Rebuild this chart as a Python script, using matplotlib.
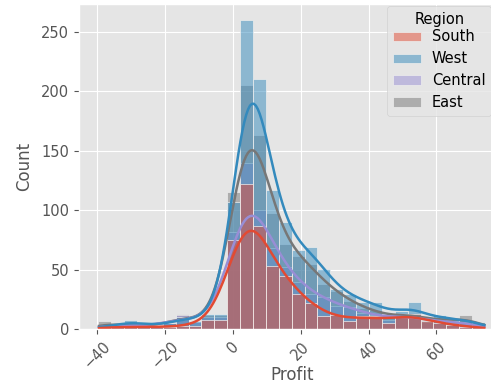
import matplotlib
matplotlib.use("Agg")
from matplotlib import pyplot as plt
import numpy as np
import pandas as pd
import seaborn as sns

plt.style.use("ggplot")

# histogram counts per bin (30 bins, Profit from about -39.7 to 74.3)
regions = ["South", "West", "Central", "East"]
profit_lo, profit_hi, n_bins = -39.7, 74.3, 30

south = [2, 2, 2, 2, 2, 2, 3, 3, 8, 8,
         75, 122, 87, 53, 45, 30, 22, 11, 12, 7,
         11, 11, 5, 13, 13, 7, 5, 4, 2, 2]
west = [3, 3, 8, 4, 3, 5, 10, 7, 13, 13,
        107, 260, 210, 117, 90, 67, 69, 51, 34, 30,
        23, 23, 13, 15, 23, 8, 12, 8, 8, 6]
central = [4, 3, 3, 3, 4, 5, 12, 6, 10, 10,
           82, 140, 100, 68, 52, 40, 30, 27, 20, 19,
           14, 12, 8, 12, 12, 6, 8, 5, 6, 4]
east = [7, 3, 4, 3, 3, 5, 13, 6, 12, 12,
        115, 205, 163, 98, 72, 62, 55, 38, 32, 24,
        18, 16, 10, 12, 14, 7, 9, 6, 12, 5]
xticks = [-40, -20, 0, 20, 40, 60]

counts = {"South": south, "West": west, "Central": central, "East": east}
colors = ["#E24A33", "#348ABD", "#988ED5", "#777777"]

edges = np.linspace(profit_lo, profit_hi, n_bins + 1)
centers = (edges[:-1] + edges[1:]) / 2

# one row per order, placed at its bin centre
frames = []
for r in regions:
    vals = np.repeat(centers, counts[r])
    frames.append(pd.DataFrame({"Profit": vals, "Region": r}))
df = pd.concat(frames, ignore_index=True)

fig = plt.figure(figsize=(4.91, 3.87), dpi=100)
ax = fig.add_axes([0.161, 0.149, 0.866, 0.84])

sns.histplot(data=df, x="Profit", hue="Region", hue_order=regions,
             bins=n_bins, binrange=(profit_lo, profit_hi), kde=True,
             palette=colors, ax=ax,
             line_kws={"linewidth": 1.8}, kde_kws={"cut": 0.5})

ax.set_xlim(-45.4, 80)
ax.set_ylim(0, 273)
ax.set_xticks(xticks)
ax.set_xlabel("Profit", fontsize=12, color="#555555", labelpad=-4)
ax.set_ylabel("Count", fontsize=12, color="#555555", labelpad=6)
ax.tick_params(axis="x", labelrotation=45, labelsize=10.5)
ax.tick_params(axis="y", labelsize=10.5)

leg = ax.get_legend()
leg.set_bbox_to_anchor((1.0, 1 - 6 / 387), transform=fig.transFigure)
leg.set_loc("upper right")
leg.borderaxespad = 0
leg.get_title().set_fontsize(10.5)
for t in leg.get_texts():
    t.set_fontsize(10.5)
leg._legend_box.sep = 2
leg.labelspacing = 0.25

fig.savefig("out.png", dpi=100)
